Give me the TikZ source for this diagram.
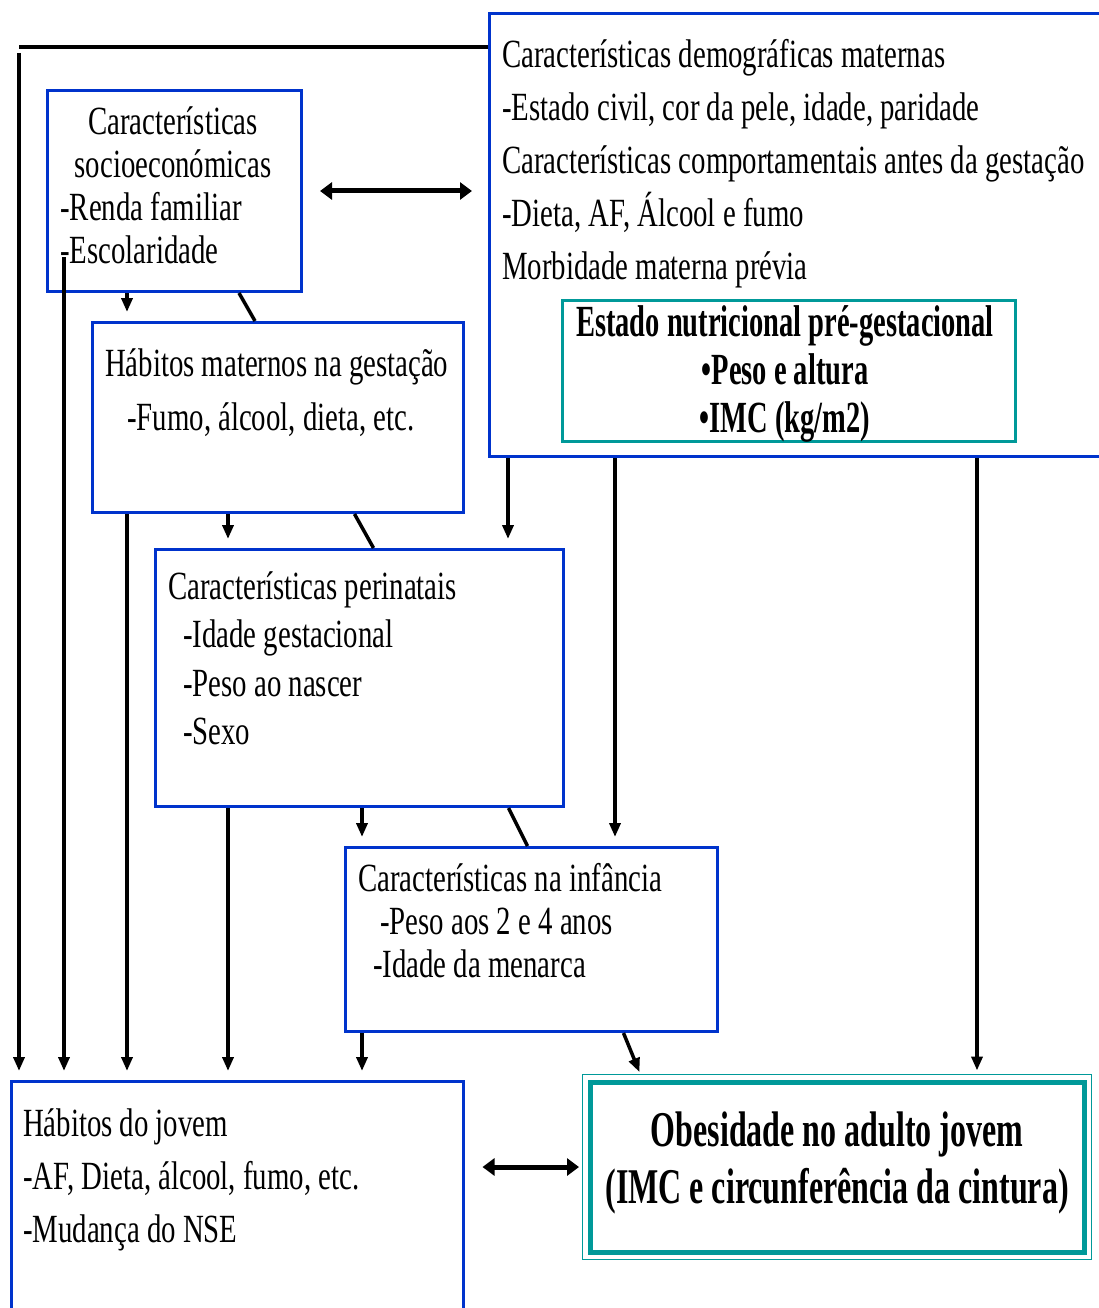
\documentclass[tikz,border=0pt]{standalone}
\usepackage{fontspec}
\setmainfont{Liberation Serif}[FakeStretch=0.72]
\newfontfamily\boldnarrow{Liberation Serif}[FakeStretch=0.64]
\usepackage{tikz}
\usetikzlibrary{positioning}
\usetikzlibrary{arrows.meta}
\definecolor{boxblue}{HTML}{0033CC}
\definecolor{boxteal}{HTML}{009999}

\begin{document}
\begin{tikzpicture}[x=1pt,y=-1pt]
    \useasboundingbox (0,0) rectangle (1099,1308);
    \clip (0,0) rectangle (1099,1308);

    \tikzstyle{bluebox} = [draw=boxblue, line width=3pt, anchor=north west, inner sep=0pt]
    \tikzstyle{tealbox} = [draw=boxteal, line width=3pt, anchor=north west, inner sep=0pt]
    \tikzstyle{txt} = [anchor=base west, align=left, inner sep=0pt, font=\fontsize{40}{43}\selectfont]
    \tikzstyle{arr} = [line width=3.5pt, -{Triangle[length=14pt,width=11pt]}, shorten >=9pt]
    \tikzstyle{dblarr} = [line width=5pt, {Triangle[length=12pt,width=17pt]}-{Triangle[length=12pt,width=17pt]}]
    \tikzstyle{link} = [line width=3.5pt]

    % boxes
    \node[bluebox, minimum width=254pt, minimum height=201pt] (socio) at (46,89) {};
    \node[bluebox, minimum width=700pt, minimum height=443pt] (demo) at (488,12) {};
    \node[tealbox, minimum width=453pt, minimum height=141pt] (estado) at (561,299) {};
    \node[bluebox, minimum width=371pt, minimum height=190pt] (maternos) at (91,321) {};
    \node[bluebox, minimum width=408pt, minimum height=257pt] (peri) at (154,548) {};
    \node[bluebox, minimum width=372pt, minimum height=184pt] (inf) at (344,846) {};
    \node[bluebox, minimum width=452pt, minimum height=300pt] (jovem) at (10,1080) {};
    \node[draw=boxteal, line width=5pt, minimum width=494pt, minimum height=170pt, inner sep=0pt] (obes) at (837,1167) {};
    \draw[boxteal, line width=1.2pt] ([shift={(-5pt,5pt)}]obes.north west) rectangle ([shift={(5pt,-5pt)}]obes.south east);

    % texts (anchored on the last line)
    \node[txt, anchor=base, align=center] (sociohead) at (173,178) {Características\\socioeconómicas};
    \node[txt] (sociolist) at (60,263) {-Renda familiar\\-Escolaridade};
    \node[txt, font=\fontsize{40}{53}\selectfont] (demotxt) at (502,279) {Características demográficas maternas\\-Estado civil, cor da pele, idade, paridade\\Características comportamentais antes da gestação\\-Dieta, AF, Álcool e fumo\\Morbidade materna prévia};
    \node[txt, anchor=base, align=center, font=\boldnarrow\bfseries\fontsize{44.5}{48}\selectfont] (estadotxt) at (785,432) {Estado nutricional pré-gestacional\\•Peso e altura\\•IMC (kg/m2)};
    \node[txt, font=\fontsize{40}{54}\selectfont] (maternostxt) at (105,430) {Hábitos maternos na gestação\\\hspace*{22pt}-Fumo, álcool, dieta, etc.};
    \node[txt, font=\fontsize{40}{48.5}\selectfont] (peritxt) at (168,744.5) {Características perinatais\\\hspace*{15pt}-Idade gestacional\\\hspace*{15pt}-Peso ao nascer\\\hspace*{15pt}-Sexo};
    \node[txt] (inftxt) at (358,977) {Características na infância\\\hspace*{22pt}-Peso aos 2 e 4 anos\\\hspace*{15pt}-Idade da menarca};
    \node[txt, font=\fontsize{40}{53}\selectfont] (jovemtxt) at (23,1242) {Hábitos do jovem\\-AF, Dieta, álcool, fumo, etc.\\-Mudança do NSE};
    \node[txt, anchor=base, align=center, font=\boldnarrow\bfseries\fontsize{50}{57}\selectfont] (obestxt) at (837,1203) {Obesidade no adulto jovem\\(IMC e circunferência da cintura)};

    % connectors
    \coordinate (tl) at (19,47);
    \coordinate (tl2) at (19,53);
    \coordinate (escol) at (64,257);
    \coordinate (colB) at (127,0);
    \coordinate (colC) at (228,0);
    \coordinate (colD) at (362,0);
    \coordinate (colE) at (508,0);
    \coordinate (colF) at (615,0);
    \coordinate (colG) at (977,0);

    \draw[link] (demo.west |- tl) -- (tl);
    \draw[arr] (tl2) -- (jovem.north -| tl2);
    \draw[arr] (escol) -- (jovem.north -| escol);
    \draw[arr] (socio.south -| colB) -- (maternos.north -| colB);
    \draw[arr] (maternos.south -| colB) -- (jovem.north -| colB);
    \draw[arr] (maternos.south -| colC) -- (peri.north -| colC);
    \draw[arr] (peri.south -| colC) -- (jovem.north -| colC);
    \draw[arr] (peri.south -| colD) -- (inf.north -| colD);
    \draw[arr] (inf.south -| colD) -- (jovem.north -| colD);
    \draw[arr] (demo.south -| colE) -- (peri.north -| colE);
    \draw[arr] (demo.south -| colF) -- (inf.north -| colF);
    \draw[arr] (demo.south -| colG) -- (obes.north -| colG);

    \draw[link] ([xshift=193pt]socio.south west) -- ([xshift=164pt]maternos.north west);
    \draw[link] ([xshift=263.5pt]maternos.south west) -- ([xshift=219.5pt]peri.north west);
    \draw[link] ([xshift=354.5pt]peri.south west) -- ([xshift=183.5pt]inf.north west);
    \draw[arr, shorten >=8pt] ([xshift=279.5pt]inf.south west) -- ([xshift=55pt]obes.north west);

    \draw[dblarr, shorten <=17pt, shorten >=16pt] (socio.east) -- (socio.east -| demo.west);
    \draw[dblarr, shorten <=17.5pt, shorten >=8.5pt] (obes.west -| jovem.east) -- (obes.west);
\end{tikzpicture}
\end{document}
